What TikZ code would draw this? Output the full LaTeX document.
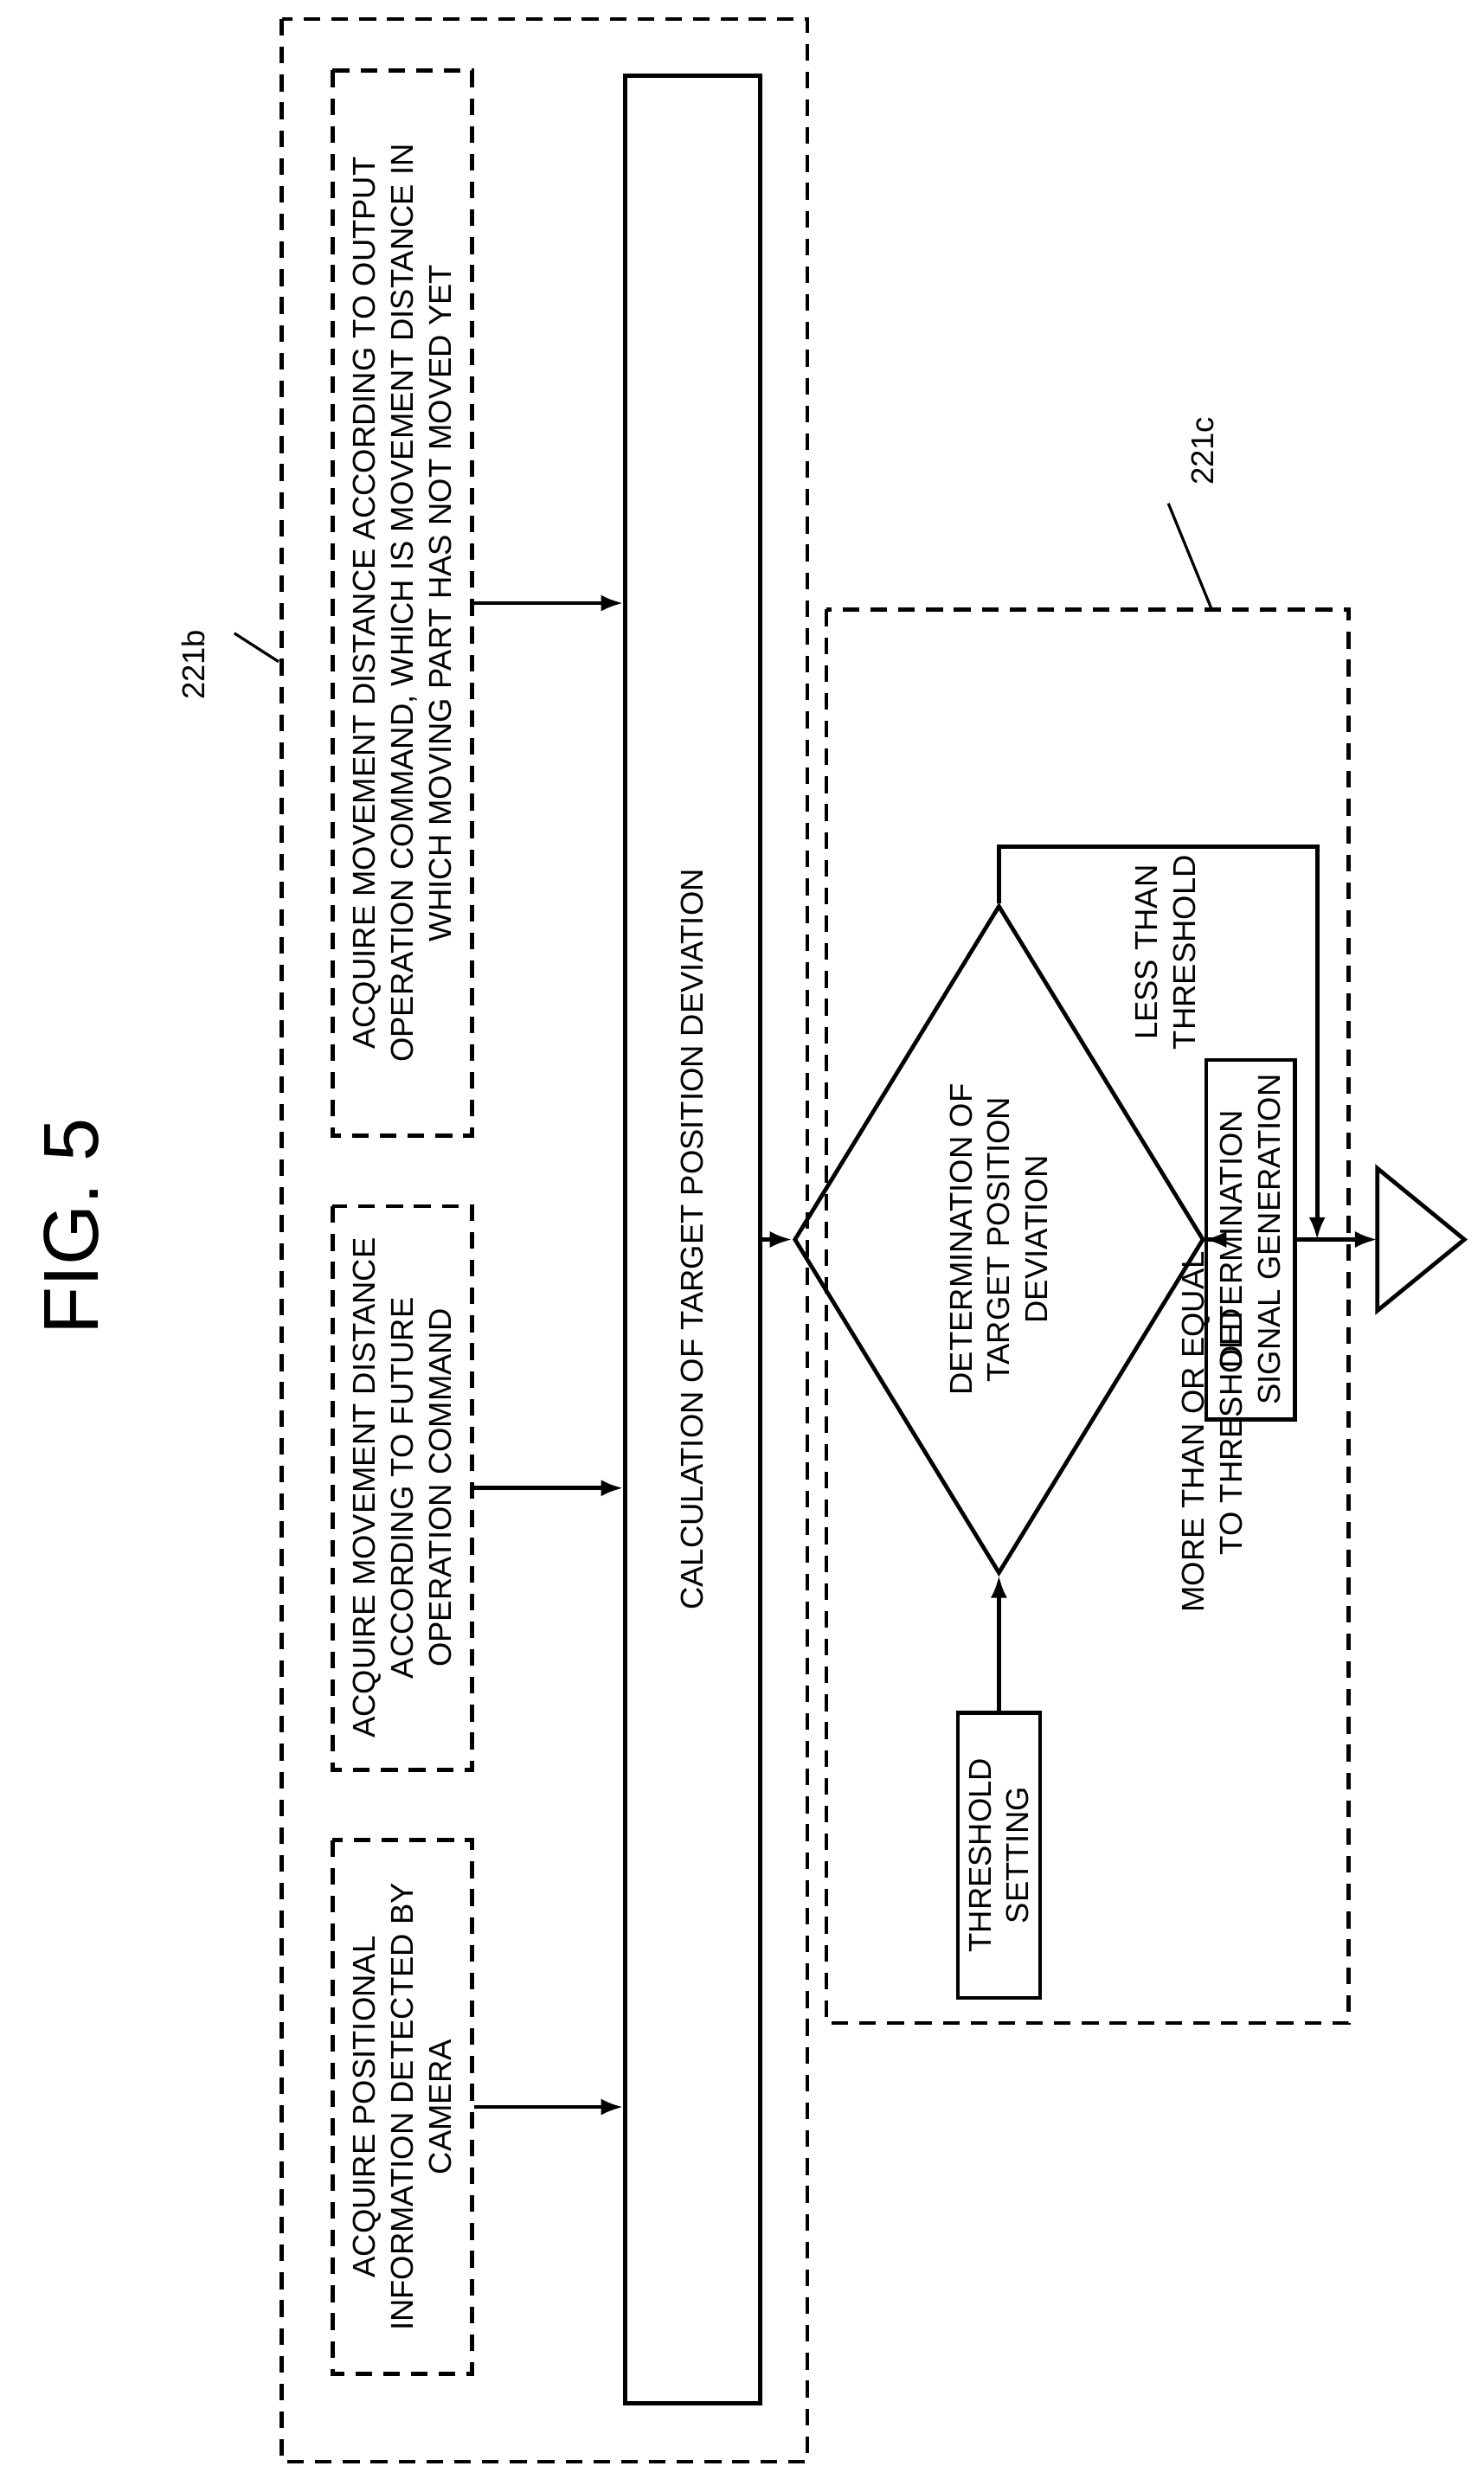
\documentclass[tikz,border=0pt]{standalone}
\usepackage{fontspec}
\setmainfont{Liberation Sans}
\usetikzlibrary{arrows.meta}
\usetikzlibrary{shapes.geometric}

\tikzset{
  dbox/.style={draw, line width=2.2pt, dash pattern=on 9pt off 6pt},
  sbox/.style={draw, line width=2.2pt, rotate=90, inner sep=0pt, align=center,
    font=\fontsize{17}{20.5}\selectfont},
  arr/.style={-{Latex[length=12pt,width=9pt]}, line width=2.2pt},
  rtext/.style={rotate=90, align=center, font=\fontsize{17}{20.5}\selectfont}
}

\begin{document}
\begin{tikzpicture}[x=0.03cm, y=-0.03cm]
\useasboundingbox (0,0) rectangle (937,1566);
\node[rotate=90, font=\fontsize{42}{42}\selectfont] (fig) at (45,775) {FIG. 5};
%
\draw[dbox] (178,12) rectangle (510,1555);
\node[rtext] (lb) at (122,420) {221b};
\draw[line width=1.5pt] (148,400) -- (176,418);
%
\node[sbox, dbox, minimum width=337*0.03cm, minimum height=88*0.03cm]
  (b1) at (254,1331) {ACQUIRE POSITIONAL\\INFORMATION DETECTED BY\\CAMERA};
\node[sbox, dbox, minimum width=356*0.03cm, minimum height=88*0.03cm]
  (b2) at (254,940) {ACQUIRE MOVEMENT DISTANCE\\ACCORDING TO FUTURE\\OPERATION COMMAND};
\node[sbox, dbox, minimum width=673*0.03cm, minimum height=88*0.03cm]
  (b3) at (254,381) {ACQUIRE MOVEMENT DISTANCE ACCORDING TO OUTPUT\\OPERATION COMMAND, WHICH IS MOVEMENT DISTANCE IN\\WHICH MOVING PART HAS NOT MOVED YET};
\node[sbox, minimum width=1470*0.03cm, minimum height=85*0.03cm]
  (calc) at (437.5,783) {CALCULATION OF TARGET POSITION DEVIATION};
\foreach \b in {b1,b2,b3}
  \draw[arr] (\b.south) -- (calc.north |- \b.south);
%
\draw[dbox] (522,385) rectangle (852,1278);
\node[rtext] (lc) at (760,285) {221c};
\draw[line width=1.5pt] (738,318) -- (765,384);
%
\node[sbox, diamond, minimum width=422*0.03cm, minimum height=152*0.03cm]
  (dec) at (631,783) {DETERMINATION OF\\TARGET POSITION\\DEVIATION};
\node[sbox, minimum width=180*0.03cm, minimum height=52*0.03cm]
  (thr) at (631,1172) {THRESHOLD\\SETTING};
\node[sbox, minimum width=227*0.03cm, minimum height=56*0.03cm]
  (gen) at (790,783) {DETERMINATION\\SIGNAL GENERATION};
\coordinate (out) at (870,783);
\draw[line width=2.2pt] (870,738) -- (925,783) -- (870,828) -- cycle;
%
\draw[arr] (calc.south |- dec.north) -- (dec.north);
\draw[arr] (thr.east) -- (dec.west);
\draw[arr] (dec.south) -- (gen.north)
  node[pos=0.5, rtext, anchor=east, xshift=-2pt, yshift=-4pt] {MORE THAN OR EQUAL\\TO THRESHOLD};
\draw[arr] (gen.south) -- (out);
\draw[arr] (dec.east) -- (631,535) -- (832,535)
  node[pos=0.5, rtext, anchor=east, yshift=-4pt] {LESS THAN\\THRESHOLD}
  -- (832,783);
\end{tikzpicture}
\end{document}
